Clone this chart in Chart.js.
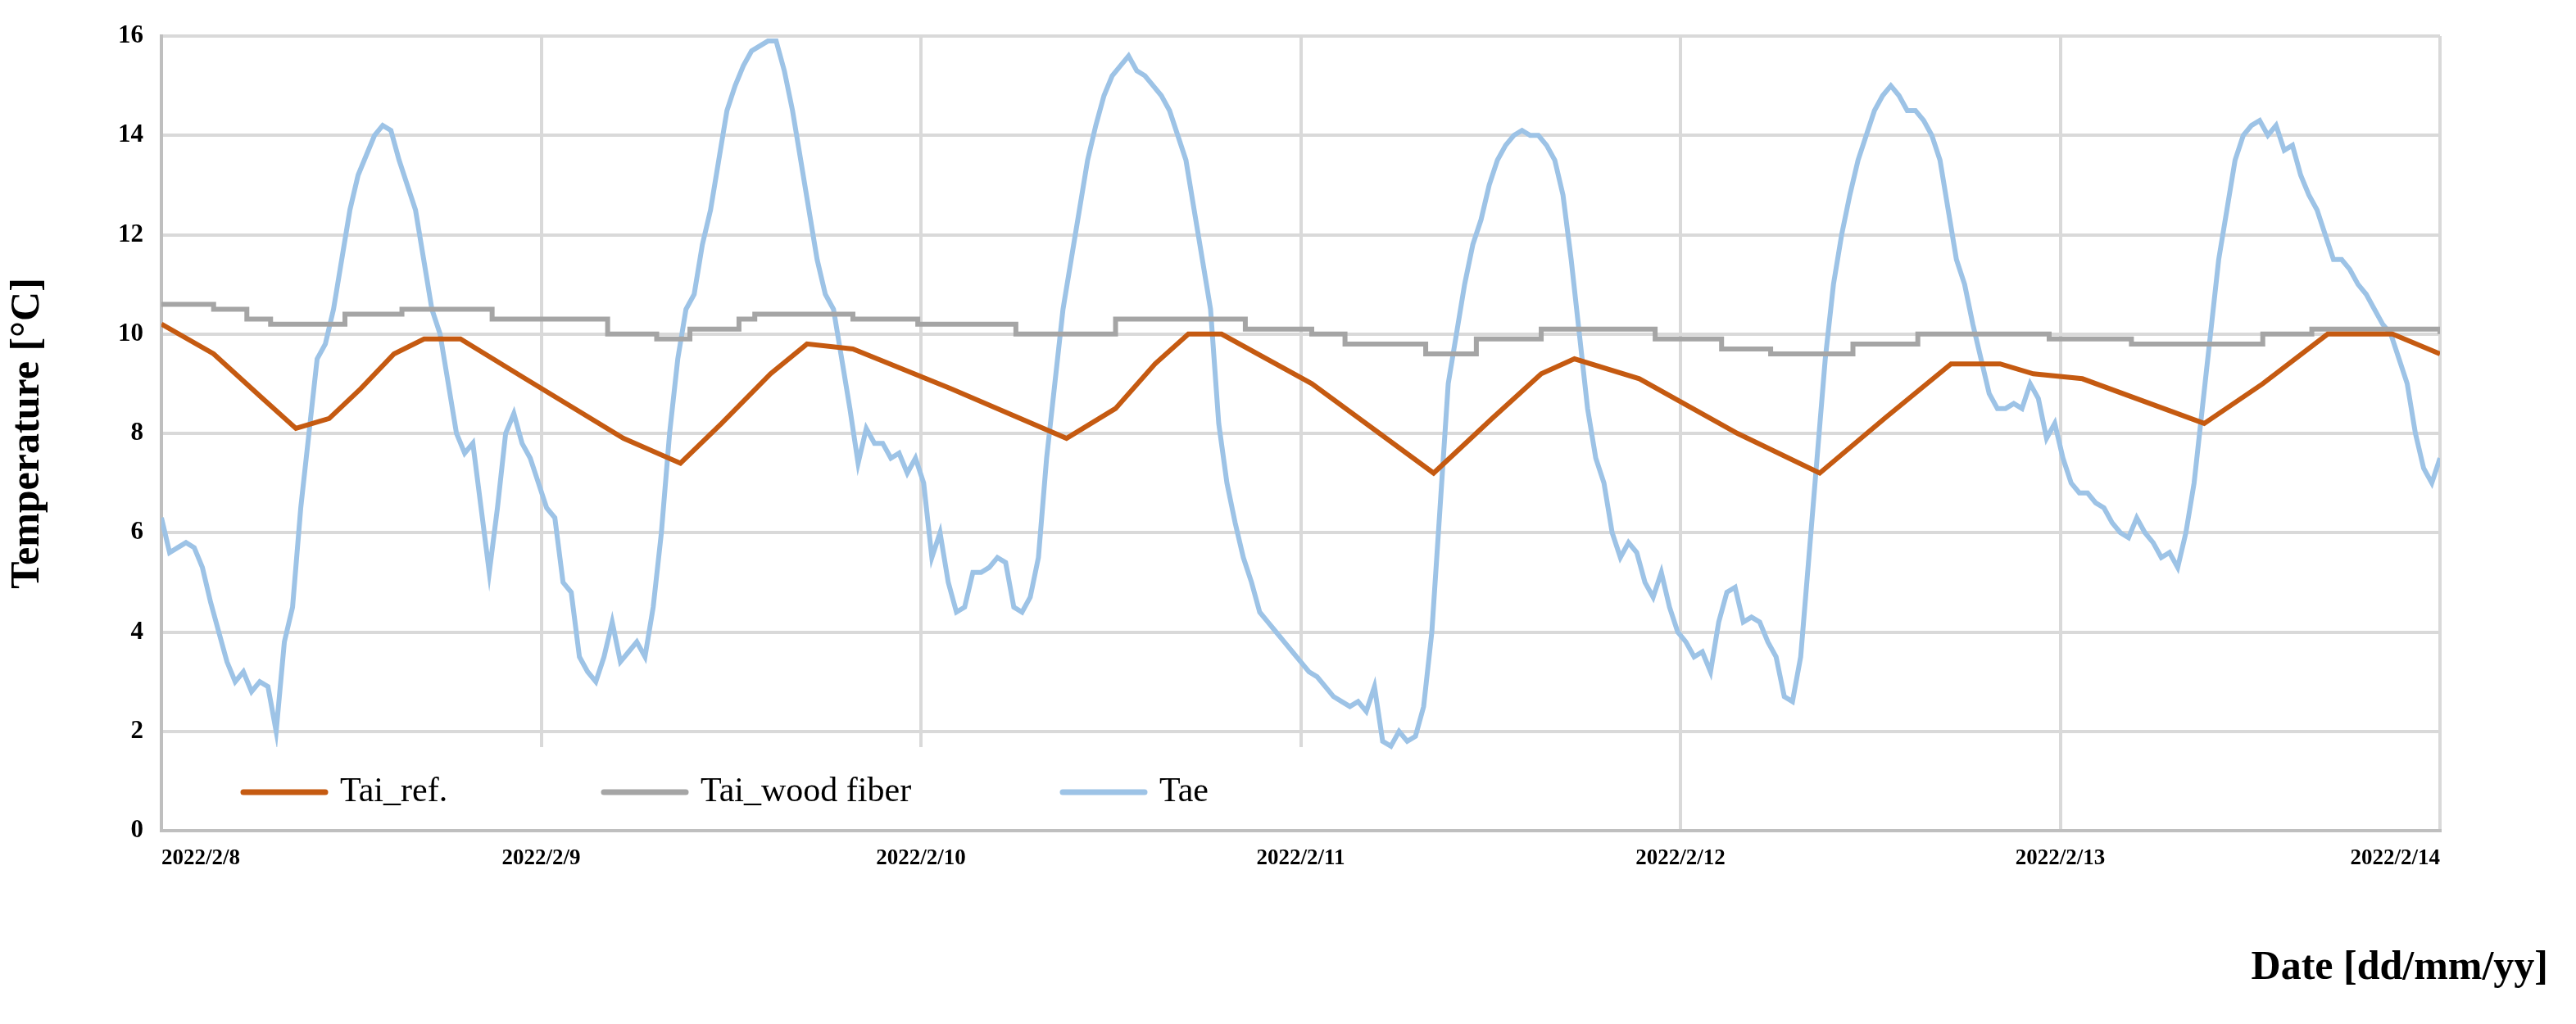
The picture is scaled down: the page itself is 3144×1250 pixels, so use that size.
<!DOCTYPE html>
<html>
<head>
<meta charset="utf-8">
<script src="https://cdn.jsdelivr.net/npm/chart.js@4/dist/chart.umd.min.js"></script>
<style>
  body { margin: 0; background: #fff; }
  #wrap { width: 3144px; height: 1250px; }
</style>
</head>
<body>
<div id="wrap"><canvas id="chart" width="3144" height="1250"></canvas></div>
<script>
// Tick labels for each day (x axis in hours from 2022/2/8 00:00)
const dateLabels = ["2022/2/8", "2022/2/9", "2022/2/10", "2022/2/11", "2022/2/12", "2022/2/13", "2022/2/14"];

// Tai_ref. - hours / values
const refHours = [0, 3.3, 6.4, 8.5, 10.6, 12.6, 14.7, 16.6, 18.9, 23.0, 29.2, 32.8, 35.4, 38.5, 40.8, 43.7, 49.9, 57.2, 60.3, 62.8, 64.9, 67.0, 72.7, 80.4, 84.1, 87.2, 89.3, 93.4, 99.6, 104.8, 108.9, 113.1, 116.2, 118.3, 121.4, 129.1, 132.8, 136.9, 141.0, 144];
const refVals  = [10.2, 9.6, 8.7, 8.1, 8.3, 8.9, 9.6, 9.9, 9.9, 9.1, 7.9, 7.4, 8.2, 9.2, 9.8, 9.7, 8.9, 7.9, 8.5, 9.4, 10.0, 10.0, 9.0, 7.2, 8.3, 9.2, 9.5, 9.1, 8.0, 7.2, 8.3, 9.4, 9.4, 9.2, 9.1, 8.2, 9.0, 10.0, 10.0, 9.6];

// Tai_wood fiber - hours / values
const woodHours = [0, 3.3, 5.4, 6.9, 10.6, 11.6, 14.7, 15.2, 18.9, 20.9, 25.1, 28.2, 31.3, 33.4, 36.5, 37.5, 41.6, 43.7, 47.8, 54.0, 57.2, 60.3, 65.5, 68.5, 72.7, 74.8, 79.9, 83.1, 87.2, 91.3, 94.4, 98.6, 101.7, 103.8, 106.9, 111.0, 116.2, 119.3, 124.5, 130.7, 132.8, 135.9, 141.0, 144];
const woodVals  = [10.6, 10.5, 10.3, 10.2, 10.2, 10.4, 10.4, 10.5, 10.5, 10.3, 10.3, 10.0, 9.9, 10.1, 10.3, 10.4, 10.4, 10.3, 10.2, 10.0, 10.0, 10.3, 10.3, 10.1, 10.0, 9.8, 9.6, 9.9, 10.1, 10.1, 9.9, 9.7, 9.6, 9.6, 9.8, 10.0, 10.0, 9.9, 9.8, 9.8, 10.0, 10.1, 10.1, 10.0];

// Tae - evenly sampled readings over the 6 days
const taeVals = [
  6.3, 5.6, 5.7, 5.8, 5.7, 5.3, 4.6, 4.0, 3.4, 3.0, 3.2, 2.8, 3.0, 2.9, 2.0, 3.8, 4.5, 6.5, 8.0, 9.5,
  9.8, 10.5, 11.5, 12.5, 13.2, 13.6, 14.0, 14.2, 14.1, 13.5, 13.0, 12.5, 11.5, 10.5, 10.0, 9.0, 8.0, 7.6, 7.8, 6.5,
  5.2, 6.5, 8.0, 8.4, 7.8, 7.5, 7.0, 6.5, 6.3, 5.0, 4.8, 3.5, 3.2, 3.0, 3.5, 4.2, 3.4, 3.6, 3.8, 3.5,
  4.5, 6.0, 8.0, 9.5, 10.5, 10.8, 11.8, 12.5, 13.5, 14.5, 15.0, 15.4, 15.7, 15.8, 15.9, 15.9, 15.3, 14.5, 13.5, 12.5,
  11.5, 10.8, 10.5, 9.5, 8.5, 7.4, 8.1, 7.8, 7.8, 7.5, 7.6, 7.2, 7.5, 7.0, 5.5, 6.0, 5.0, 4.4, 4.5, 5.2,
  5.2, 5.3, 5.5, 5.4, 4.5, 4.4, 4.7, 5.5, 7.5, 9.0, 10.5, 11.5, 12.5, 13.5, 14.2, 14.8, 15.2, 15.4, 15.6, 15.3,
  15.2, 15.0, 14.8, 14.5, 14.0, 13.5, 12.5, 11.5, 10.5, 8.2, 7.0, 6.2, 5.5, 5.0, 4.4, 4.2, 4.0, 3.8, 3.6, 3.4,
  3.2, 3.1, 2.9, 2.7, 2.6, 2.5, 2.6, 2.4, 2.9, 1.8, 1.7, 2.0, 1.8, 1.9, 2.5, 4.0, 6.5, 9.0, 10.0, 11.0,
  11.8, 12.3, 13.0, 13.5, 13.8, 14.0, 14.1, 14.0, 14.0, 13.8, 13.5, 12.8, 11.5, 10.0, 8.5, 7.5, 7.0, 6.0, 5.5, 5.8,
  5.6, 5.0, 4.7, 5.2, 4.5, 4.0, 3.8, 3.5, 3.6, 3.2, 4.2, 4.8, 4.9, 4.2, 4.3, 4.2, 3.8, 3.5, 2.7, 2.6,
  3.5, 5.5, 7.5, 9.5, 11.0, 12.0, 12.8, 13.5, 14.0, 14.5, 14.8, 15.0, 14.8, 14.5, 14.5, 14.3, 14.0, 13.5, 12.5, 11.5,
  11.0, 10.2, 9.5, 8.8, 8.5, 8.5, 8.6, 8.5, 9.0, 8.7, 7.9, 8.2, 7.5, 7.0, 6.8, 6.8, 6.6, 6.5, 6.2, 6.0,
  5.9, 6.3, 6.0, 5.8, 5.5, 5.6, 5.3, 6.0, 7.0, 8.5, 10.0, 11.5, 12.5, 13.5, 14.0, 14.2, 14.3, 14.0, 14.2, 13.7,
  13.8, 13.2, 12.8, 12.5, 12.0, 11.5, 11.5, 11.3, 11.0, 10.8, 10.5, 10.2, 10.0, 9.5, 9.0, 8.0, 7.3, 7.0, 7.5
];

const toPoints = (hrs, vals) => hrs.map((h, i) => ({ x: h, y: vals[i] }));
const taeStep = 144 / (taeVals.length - 1);
const taePoints = taeVals.map((v, i) => ({ x: i * taeStep, y: v }));

const serif = "'Liberation Serif', 'DejaVu Serif', serif";

// legend inside the plot + x-axis title at bottom right
const overlay = {
  id: "overlay",
  afterDraw(c) {
    const ctx = c.ctx, a = c.chartArea;
    ctx.save();
    const boxW = 1480, boxH = 102;
    ctx.fillStyle = "#fff";
    ctx.fillRect(a.left + 2, a.bottom - boxH, boxW, boxH - 2);
    ctx.font = "42px " + serif;
    ctx.textBaseline = "middle";
    const cy = a.bottom - boxH / 2 + 4;
    const items = [[100, "Tai_ref."], [540, "Tai_wood fiber"], [1100, "Tae"]];
    items.forEach(([off, label], i) => {
      const ds = c.data.datasets[i];
      ctx.strokeStyle = ds.borderColor;
      ctx.lineWidth = 7;
      ctx.lineCap = "round";
      ctx.beginPath();
      ctx.moveTo(a.left + off, cy);
      ctx.lineTo(a.left + off + 100, cy);
      ctx.stroke();
      ctx.fillStyle = "#000";
      ctx.fillText(label, a.left + off + 118, cy);
    });
    ctx.font = "bold 50px " + serif;
    ctx.textAlign = "right";
    ctx.fillText("Date [dd/mm/yy]", 3110, 1182);
    ctx.restore();
  }
};

new Chart(document.getElementById("chart"), {
  type: "line",
  data: {
    datasets: [
      { label: "Tai_ref.", data: toPoints(refHours, refVals), borderColor: "#c55a11", borderWidth: 6, pointRadius: 0, tension: 0 },
      { label: "Tai_wood fiber", data: toPoints(woodHours, woodVals), borderColor: "#a5a5a5", borderWidth: 6, pointRadius: 0, stepped: true },
      { label: "Tae", data: taePoints, borderColor: "#9dc3e6", borderWidth: 6, pointRadius: 0, tension: 0 }
    ]
  },
  options: {
    responsive: false,
    animation: false,
    devicePixelRatio: 1,
    layout: { padding: { left: 0, right: 166, top: 44, bottom: 0 } },
    plugins: { legend: { display: false }, tooltip: { enabled: false } },
    scales: {
      x: {
        type: "linear", min: 0, max: 144,
        afterFit: s => { s.height = 236; },
        border: { color: "#bfbfbf", width: 4 },
        grid: { color: "#d9d9d9", lineWidth: 4, drawTicks: false },
        ticks: {
          stepSize: 24, align: "inner", padding: 18, color: "#000",
          font: { family: serif, size: 27, weight: "bold" },
          callback: v => dateLabels[v / 24]
        }
      },
      y: {
        min: 0, max: 16,
        afterFit: s => { s.width = 197; },
        border: { color: "#bfbfbf", width: 4 },
        grid: { color: "#d9d9d9", lineWidth: 4, drawTicks: false },
        ticks: { stepSize: 2, padding: 22, color: "#000", font: { family: serif, size: 31, weight: "bold" } },
        title: { display: true, text: "Temperature [°C]", color: "#000", font: { family: serif, size: 50, weight: "bold" }, padding: { bottom: 8 } }
      }
    }
  },
  plugins: [overlay]
});
</script>
</body>
</html>
